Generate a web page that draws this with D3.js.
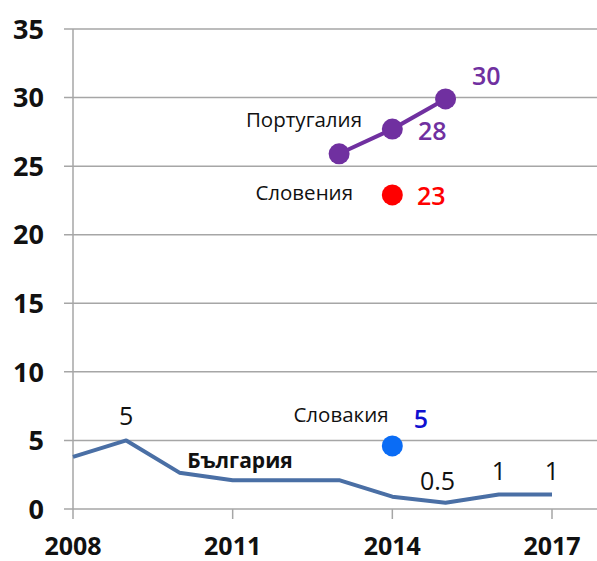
<!DOCTYPE html>
<html>
<head>
<meta charset="utf-8">
<script src="https://cdn.jsdelivr.net/npm/d3@7"></script>
<style>
  body { margin: 0; background: #fff; }
  svg text { font-family: "Open Sans", "DejaVu Sans", sans-serif; }
</style>
</head>
<body>
<div id="chart"></div>
<script>
// Data
const years = [2008, 2009, 2010, 2011, 2012, 2013, 2014, 2015, 2016, 2017];
const bulgaria = [3.8, 5.0, 2.65, 2.1, 2.1, 2.1, 0.9, 0.45, 1.05, 1.05];
const portugalYears = [2013, 2014, 2015];
const portugal = [25.9, 27.7, 29.9];
const sloveniaYear = 2014;
const slovenia = 22.9;
const slovakiaYear = 2014;
const slovakia = 4.6;
const yTicks = [0, 5, 10, 15, 20, 25, 30, 35];
const xTicks = [2008, 2011, 2014, 2017];

// value labels shown next to the Bulgaria line
const bulgariaLabels = [
  { year: 2009, text: "5", dx: 0, dy: -15 },
  { year: 2015, text: "0.5", dx: -8, dy: -13 },
  { year: 2016, text: "1", dx: 0, dy: -15 },
  { year: 2017, text: "1", dx: 0, dy: -15 }
];

const width = 597, height = 561;

const svg = d3.select("#chart")
  .append("svg")
  .attr("width", width)
  .attr("height", height);

const x = d3.scaleLinear().domain([2008, 2017]).range([73, 552]);
const y = d3.scaleLinear().domain([0, 35]).range([509, 29]);

// horizontal gridlines
svg.append("g")
  .selectAll("line")
  .data(yTicks)
  .enter()
  .append("line")
  .attr("x1", 64)
  .attr("x2", width)
  .attr("y1", d => y(d))
  .attr("y2", d => y(d))
  .attr("stroke", "#a6a6a6")
  .attr("stroke-width", 1.5);

// y axis line
svg.append("line")
  .attr("x1", x(2008)).attr("x2", x(2008))
  .attr("y1", y(35)).attr("y2", y(0) + 10)
  .attr("stroke", "#a6a6a6")
  .attr("stroke-width", 1.5);

// x tick marks
svg.append("g")
  .selectAll("line")
  .data(xTicks.slice(1))
  .enter()
  .append("line")
  .attr("x1", d => x(d)).attr("x2", d => x(d))
  .attr("y1", y(0)).attr("y2", y(0) + 10)
  .attr("stroke", "#a6a6a6")
  .attr("stroke-width", 1.5);

// y tick labels
svg.append("g")
  .selectAll("text")
  .data(yTicks)
  .enter()
  .append("text")
  .attr("x", 44)
  .attr("y", d => y(d))
  .attr("dy", "0.36em")
  .attr("text-anchor", "end")
  .attr("font-size", 27)
  .attr("font-weight", "bold")
  .attr("fill", "#111")
  .text(d => d);

// x tick labels
svg.append("g")
  .selectAll("text")
  .data(xTicks)
  .enter()
  .append("text")
  .attr("x", d => x(d))
  .attr("y", 555)
  .attr("text-anchor", "middle")
  .attr("font-size", 25)
  .attr("font-weight", "bold")
  .attr("fill", "#111")
  .text(d => d);

// Bulgaria line
const line = d3.line()
  .x(d => x(d[0]))
  .y(d => y(d[1]));

svg.append("path")
  .datum(d3.zip(years, bulgaria))
  .attr("d", line)
  .attr("fill", "none")
  .attr("stroke", "#4a6fa5")
  .attr("stroke-width", 4)
  .attr("stroke-linejoin", "round");

svg.selectAll(".bgLabel")
  .data(bulgariaLabels)
  .enter()
  .append("text")
  .attr("class", "bgLabel")
  .attr("x", d => x(d.year) + d.dx)
  .attr("y", d => y(bulgaria[years.indexOf(d.year)]) + d.dy)
  .attr("text-anchor", "middle")
  .attr("font-size", 25)
  .attr("fill", "#111")
  .text(d => d.text);

svg.append("text")
  .attr("x", 240)
  .attr("y", 468)
  .attr("text-anchor", "middle")
  .attr("font-size", 21)
  .attr("font-weight", "bold")
  .attr("fill", "#111")
  .text("България");

// Portugal
svg.append("path")
  .datum(d3.zip(portugalYears, portugal))
  .attr("d", line)
  .attr("fill", "none")
  .attr("stroke", "#7030a0")
  .attr("stroke-width", 4);

svg.selectAll(".ptDot")
  .data(d3.zip(portugalYears, portugal))
  .enter()
  .append("circle")
  .attr("class", "ptDot")
  .attr("cx", d => x(d[0]))
  .attr("cy", d => y(d[1]))
  .attr("r", 10.5)
  .attr("fill", "#7030a0");

svg.append("text")
  .attr("x", 472)
  .attr("y", 85)
  .attr("font-size", 25)
  .attr("font-weight", 600)
  .attr("fill", "#7030a0")
  .text("30");

svg.append("text")
  .attr("x", 418)
  .attr("y", 140)
  .attr("font-size", 25)
  .attr("font-weight", 600)
  .attr("fill", "#7030a0")
  .text("28");

svg.append("text")
  .attr("x", 362)
  .attr("y", 127)
  .attr("text-anchor", "end")
  .attr("font-size", 20.5)
  .attr("fill", "#111")
  .text("Португалия");

// Slovenia
svg.append("circle")
  .attr("cx", x(sloveniaYear))
  .attr("cy", y(slovenia))
  .attr("r", 10.5)
  .attr("fill", "#ff0000");

svg.append("text")
  .attr("x", 417)
  .attr("y", 205)
  .attr("font-size", 25)
  .attr("font-weight", 600)
  .attr("fill", "#ff0000")
  .text("23");

svg.append("text")
  .attr("x", 353)
  .attr("y", 200)
  .attr("text-anchor", "end")
  .attr("font-size", 20.5)
  .attr("fill", "#111")
  .text("Словения");

// Slovakia
svg.append("circle")
  .attr("cx", x(slovakiaYear))
  .attr("cy", y(slovakia))
  .attr("r", 10.5)
  .attr("fill", "#0a6cf5");

svg.append("text")
  .attr("x", 421)
  .attr("y", 428)
  .attr("text-anchor", "middle")
  .attr("font-size", 25)
  .attr("font-weight", 600)
  .attr("fill", "#1010d0")
  .text("5");

svg.append("text")
  .attr("x", 341)
  .attr("y", 422)
  .attr("text-anchor", "middle")
  .attr("font-size", 20.5)
  .attr("fill", "#111")
  .text("Словакия");
</script>
</body>
</html>
